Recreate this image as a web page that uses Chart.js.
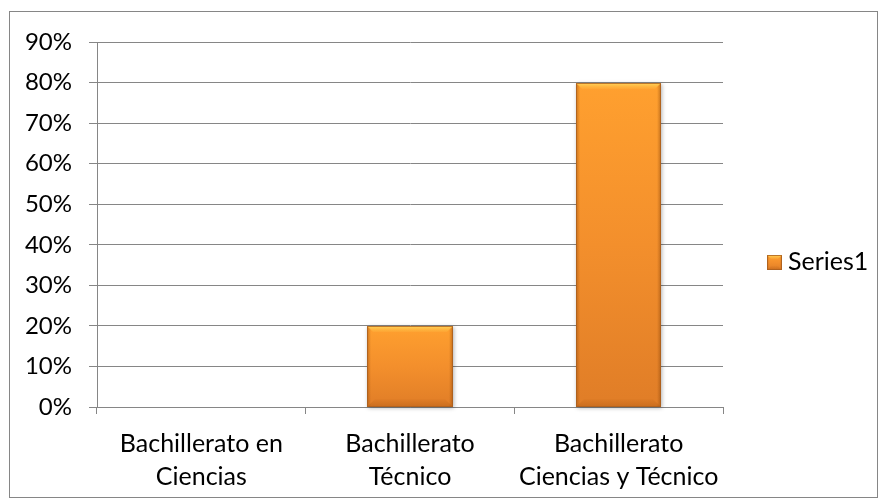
<!DOCTYPE html>
<html>
<head>
<meta charset="utf-8">
<script src="https://cdn.jsdelivr.net/npm/chart.js@4.4.1/dist/chart.umd.min.js"></script>
<style>
  html, body { margin: 0; padding: 0; background: #fff; }
  #wrap { position: relative; width: 878px; height: 498px; }
</style>
</head>
<body>
<div id="wrap"><canvas id="grafico" width="878" height="498"></canvas></div>
<script>
// categorias y valores (fracciones, se muestran en %)
const categorias = [
  ['Bachillerato en', 'Ciencias'],
  ['Bachillerato', 'Técnico'],
  ['Bachillerato', 'Ciencias y Técnico'],
];
const valores = [0, 0.2, 0.8];
const serie = 'Series1';
const ejeMax = 0.9;
const ejePaso = 0.1;

const gris = '#868686';
const fuente = 'Lato, "Noto Sans", sans-serif';

// rectangulo naranja con bisel suave (barras y cuadro de leyenda)
function bisel(ctx, left, top, right, bottom, bt, bb, bs) {
  const w = right - left;
  const h = bottom - top;
  if (w <= 0 || h <= 0) return;
  bt = Math.min(bt, h / 3);
  bb = Math.min(bb, h / 3);
  ctx.save();
  const g = ctx.createLinearGradient(0, top, 0, bottom);
  g.addColorStop(0, '#FFA02F');
  g.addColorStop(0.5, '#F38F2C');
  g.addColorStop(1, '#E07D27');
  ctx.fillStyle = g;
  ctx.fillRect(left, top, w, h);
  // lados algo mas oscuros
  const gl = ctx.createLinearGradient(left, 0, left + bs, 0);
  gl.addColorStop(0, 'rgba(140,70,10,0.45)');
  gl.addColorStop(1, 'rgba(140,70,10,0)');
  ctx.fillStyle = gl;
  ctx.fillRect(left, top, bs, h);
  const gr = ctx.createLinearGradient(right, 0, right - bs, 0);
  gr.addColorStop(0, 'rgba(140,70,10,0.5)');
  gr.addColorStop(1, 'rgba(140,70,10,0)');
  ctx.fillStyle = gr;
  ctx.fillRect(right - bs, top, bs, h);
  // arriba amarillo
  const gt = ctx.createLinearGradient(0, top, 0, top + bt);
  gt.addColorStop(0, 'rgba(255,214,90,1)');
  gt.addColorStop(1, 'rgba(255,190,70,0.2)');
  ctx.fillStyle = gt;
  ctx.beginPath();
  ctx.moveTo(left, top); ctx.lineTo(right, top);
  ctx.lineTo(right - bt, top + bt); ctx.lineTo(left + bt, top + bt);
  ctx.closePath(); ctx.fill();
  // abajo
  const gb = ctx.createLinearGradient(0, bottom - bb, 0, bottom);
  gb.addColorStop(0, 'rgba(170,85,15,0.05)');
  gb.addColorStop(1, 'rgba(170,85,15,0.4)');
  ctx.fillStyle = gb;
  ctx.beginPath();
  ctx.moveTo(left, bottom); ctx.lineTo(right, bottom);
  ctx.lineTo(right - bb, bottom - bb); ctx.lineTo(left + bb, bottom - bb);
  ctx.closePath(); ctx.fill();
  ctx.strokeStyle = 'rgba(170,95,30,0.8)';
  ctx.lineWidth = 1;
  ctx.strokeRect(left + 0.5, top + 0.5, w - 1, h - 1);
  ctx.restore();
}

const marcoYBarras = {
  id: 'marcoYBarras',
  beforeDraw(chart) {
    const ctx = chart.ctx;
    ctx.save();
    ctx.strokeStyle = gris;
    ctx.lineWidth = 1;
    ctx.strokeRect(9.5, 11.5, 868, 486);
    ctx.restore();
  },
  afterDatasetsDraw(chart) {
    const ctx = chart.ctx;
    chart.getDatasetMeta(0).data.forEach((bar) => {
      const p = bar.getProps(['x', 'y', 'base', 'width'], true);
      const l = Math.round(p.x - p.width / 2);
      const r = Math.round(p.x + p.width / 2);
      const t = Math.round(Math.min(p.y, p.base));
      const btm = Math.round(Math.max(p.y, p.base));
      if (btm - t < 1) return;
      ctx.save();
      ctx.shadowColor = 'rgba(0,0,0,0.3)';
      ctx.shadowBlur = 4;
      ctx.shadowOffsetX = 1;
      ctx.shadowOffsetY = 1;
      ctx.fillStyle = '#E88A2C';
      ctx.fillRect(l, t, r - l, btm - t);
      ctx.restore();
      bisel(ctx, l, t, r, btm, 6, 8, 4);
    });
  },
  afterDraw(chart) {
    // leyenda a la derecha
    const ctx = chart.ctx;
    bisel(ctx, 767, 255, 782, 270, 4, 4, 2);
    ctx.save();
    ctx.fillStyle = '#000';
    ctx.font = '25px ' + fuente;
    ctx.textBaseline = 'middle';
    ctx.textAlign = 'left';
    ctx.fillText(chart.data.datasets[0].label, 788, 262);
    ctx.restore();
  },
};

new Chart(document.getElementById('grafico'), {
  type: 'bar',
  data: {
    labels: categorias,
    datasets: [
      {
        label: serie,
        data: valores,
        backgroundColor: 'rgba(0,0,0,0)',
        borderWidth: 0,
        barPercentage: 0.41,
        categoryPercentage: 1,
      },
    ],
  },
  options: {
    responsive: false,
    animation: false,
    devicePixelRatio: 1,
    layout: { padding: { left: 0, right: 155, top: 42, bottom: 0 } },
    plugins: {
      legend: { display: false },
      tooltip: { enabled: false },
    },
    scales: {
      x: {
        afterFit: (s) => { s.height = 91; },
        grid: {
          offset: true,
          drawOnChartArea: false,
          drawTicks: true,
          tickLength: 7,
          color: gris,
        },
        border: { color: gris },
        ticks: {
          color: '#000',
          padding: 13,
          maxRotation: 0,
          autoSkip: false,
          font: { family: fuente, size: 25, lineHeight: 1.32 },
        },
      },
      y: {
        min: 0,
        max: ejeMax,
        afterFit: (s) => { s.width = 97; },
        grid: { color: gris, tickLength: 8 },
        border: { color: gris },
        ticks: {
          stepSize: ejePaso,
          padding: 17,
          color: '#000',
          font: { family: fuente, size: 24 },
          callback: (v) => Math.round(v * 100) + '%',
        },
      },
    },
  },
  plugins: [marcoYBarras],
});
</script>
</body>
</html>
